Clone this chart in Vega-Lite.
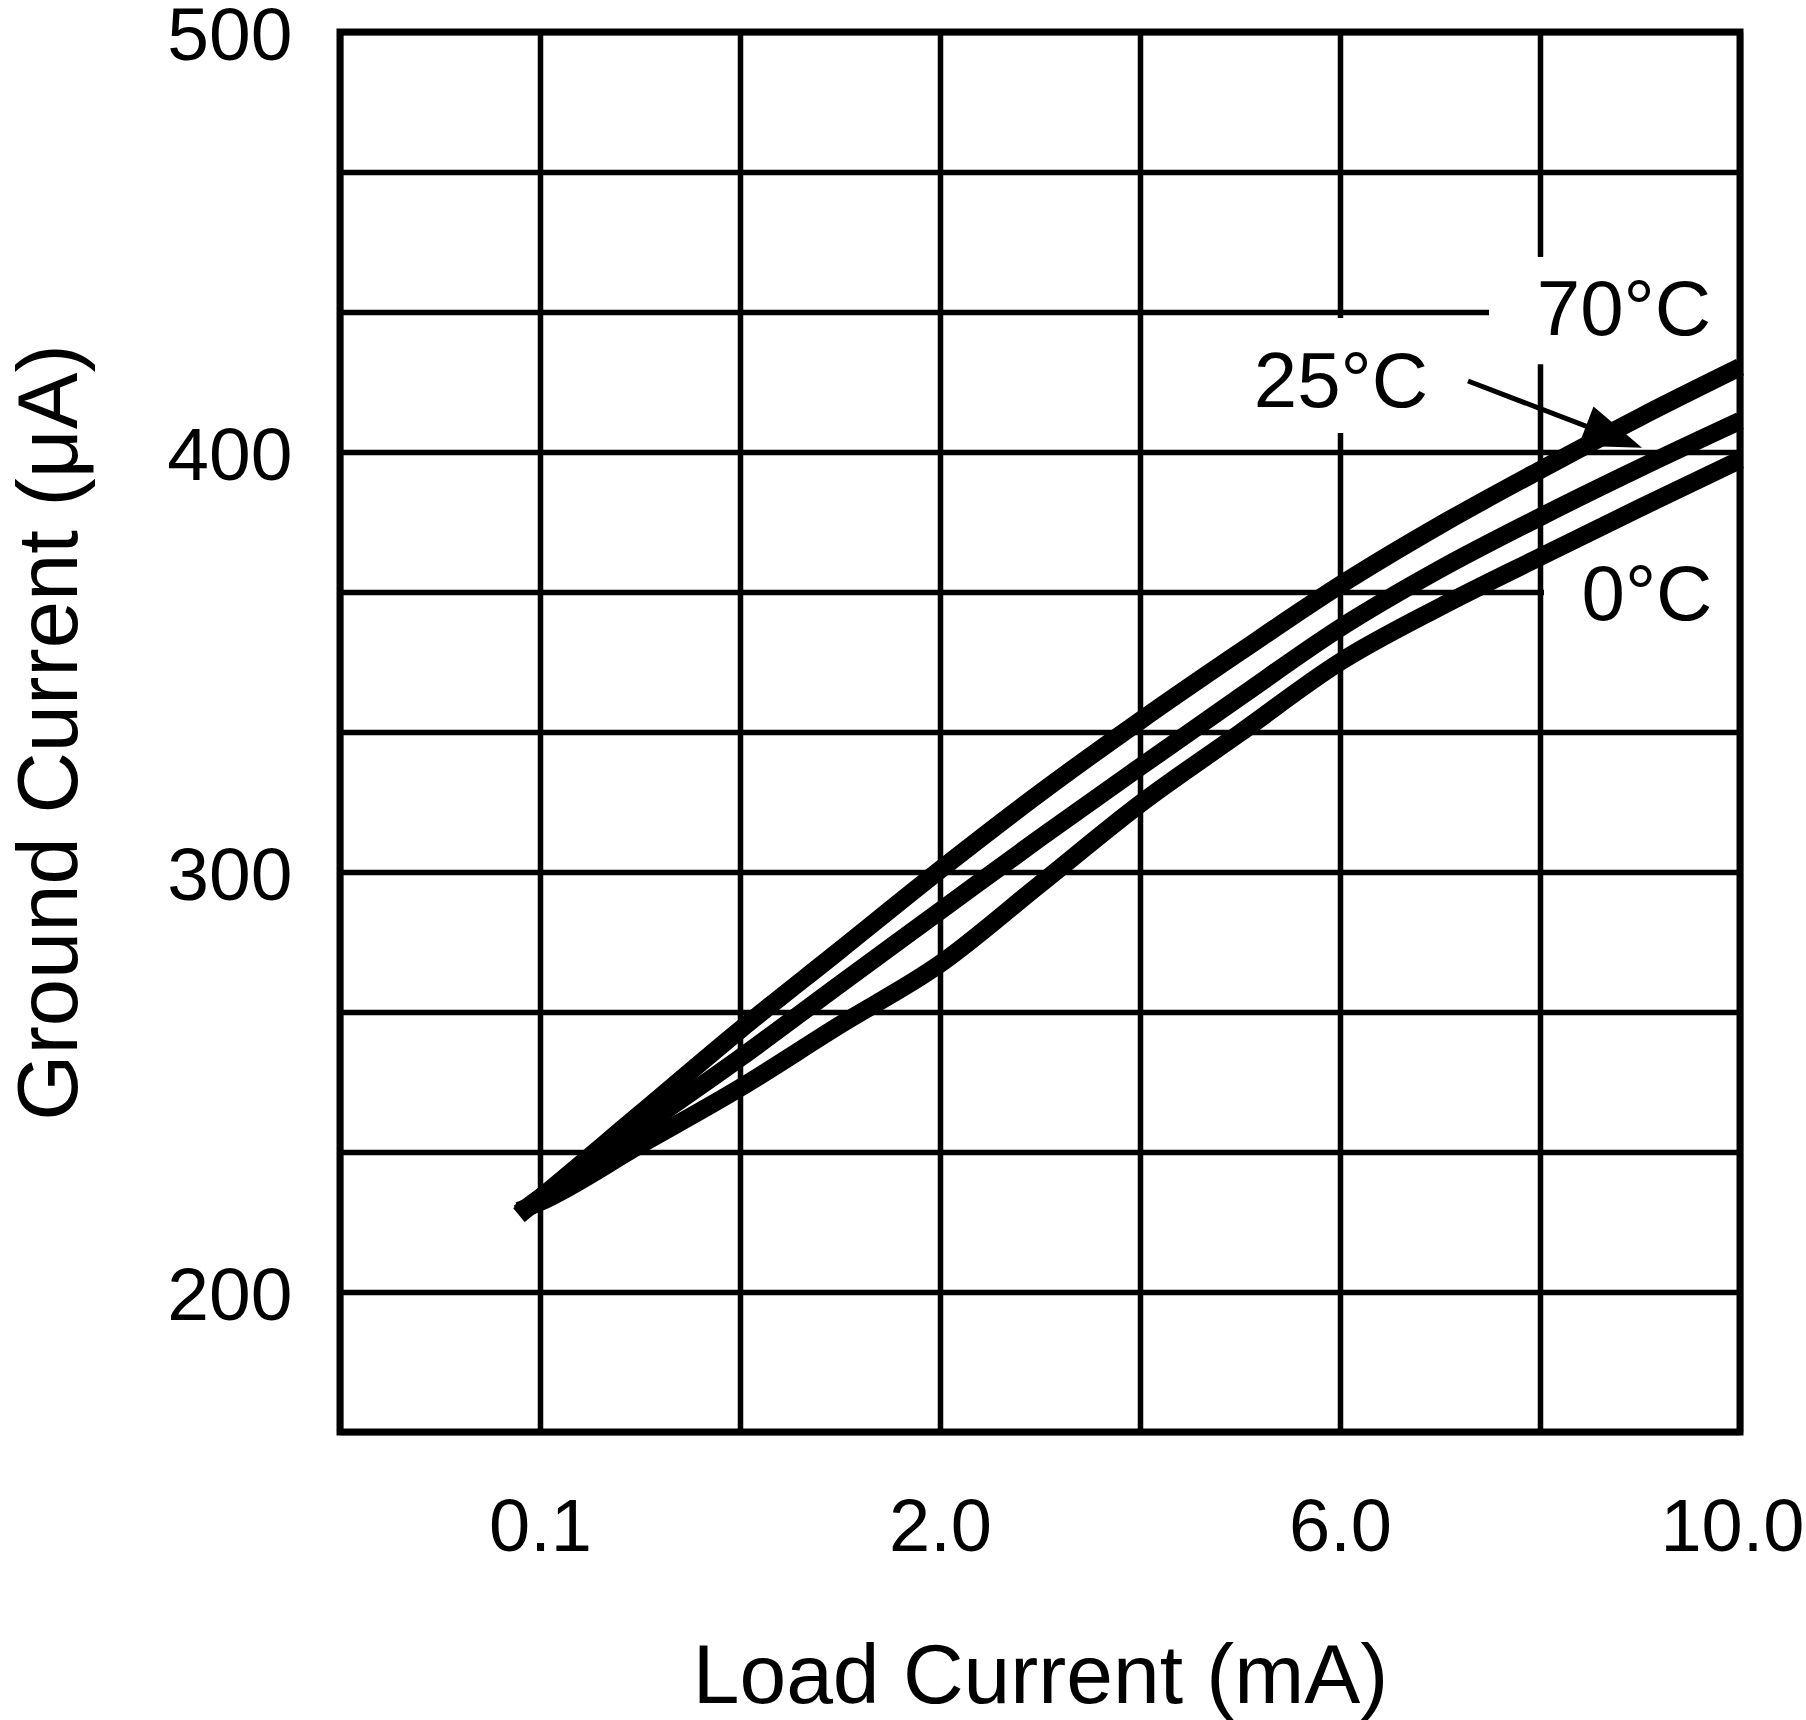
{
  "$schema": "https://vega.github.io/schema/vega-lite/v6.json",
  "width": 1400,
  "height": 1400,
  "autosize": {"type": "none"},
  "padding": {"left": 340, "top": 32, "right": 66, "bottom": 288},
  "background": "white",
  "config": {
    "font": "Liberation Sans",
    "view": {"stroke": null}
  },
  "datasets": {
    "curves": [
      {"x": -0.1, "y": 218.3, "series": "70°C"},
      {"x": 0.1, "y": 222.4, "series": "70°C"},
      {"x": 0.575, "y": 242.4, "series": "70°C"},
      {"x": 1.05, "y": 262.4, "series": "70°C"},
      {"x": 1.525, "y": 281.4, "series": "70°C"},
      {"x": 2.0, "y": 300.5, "series": "70°C"},
      {"x": 3.0, "y": 318.8, "series": "70°C"},
      {"x": 4.0, "y": 336.0, "series": "70°C"},
      {"x": 5.0, "y": 352.4, "series": "70°C"},
      {"x": 6.0, "y": 368.3, "series": "70°C"},
      {"x": 7.0, "y": 382.6, "series": "70°C"},
      {"x": 8.0, "y": 395.7, "series": "70°C"},
      {"x": 9.0, "y": 408.3, "series": "70°C"},
      {"x": 10.0, "y": 420.2, "series": "70°C"},
      {"x": -0.1, "y": 218.8, "series": "25°C"},
      {"x": 0.1, "y": 222.4, "series": "25°C"},
      {"x": 0.575, "y": 239.0, "series": "25°C"},
      {"x": 1.05, "y": 255.7, "series": "25°C"},
      {"x": 1.525, "y": 273.3, "series": "25°C"},
      {"x": 2.0, "y": 290.7, "series": "25°C"},
      {"x": 3.0, "y": 308.1, "series": "25°C"},
      {"x": 4.0, "y": 325.0, "series": "25°C"},
      {"x": 5.0, "y": 341.7, "series": "25°C"},
      {"x": 6.0, "y": 358.1, "series": "25°C"},
      {"x": 7.0, "y": 372.1, "series": "25°C"},
      {"x": 8.0, "y": 384.5, "series": "25°C"},
      {"x": 9.0, "y": 396.2, "series": "25°C"},
      {"x": 10.0, "y": 407.4, "series": "25°C"},
      {"x": -0.1, "y": 219.3, "series": "0°C"},
      {"x": 0.1, "y": 221.4, "series": "0°C"},
      {"x": 0.575, "y": 235.0, "series": "0°C"},
      {"x": 1.05, "y": 248.6, "series": "0°C"},
      {"x": 1.525, "y": 263.6, "series": "0°C"},
      {"x": 2.0, "y": 278.1, "series": "0°C"},
      {"x": 3.0, "y": 297.1, "series": "0°C"},
      {"x": 4.0, "y": 316.2, "series": "0°C"},
      {"x": 5.0, "y": 333.1, "series": "0°C"},
      {"x": 6.0, "y": 350.0, "series": "0°C"},
      {"x": 7.0, "y": 363.1, "series": "0°C"},
      {"x": 8.0, "y": 375.0, "series": "0°C"},
      {"x": 9.0, "y": 386.7, "series": "0°C"},
      {"x": 10.0, "y": 398.1, "series": "0°C"}
    ],
    "boxes": [
      {"x": 7.49, "x2": 10.0, "y": 446.4, "y2": 420.9},
      {"x": 4.9, "x2": 7.15, "y": 431.9, "y2": 404.5},
      {"x": 8.04, "x2": 10.0, "y": 377.1, "y2": 355.2}
    ],
    "frame": [
      {"x": -1.8, "x2": 10.0, "y": 166.6667, "y2": 500}
    ],
    "labels": [
      {"x": 8.84, "y": 433.3, "text": "70°C"},
      {"x": 6.01, "y": 416.2, "text": "25°C"},
      {"x": 9.07, "y": 365.5, "text": "0°C"}
    ],
    "arrow": [
      {"x": 7.28, "y": 416.9, "x2": 8.74, "y2": 403.6}
    ],
    "arrowhead": [
      {"x": 8.74, "y": 403.6}
    ]
  },
  "encoding": {
    "x": {
      "field": "x",
      "type": "quantitative",
      "scale": {"domain": [-1.8, 0.1, 2.0, 6.0, 10.0], "range": [0, 200, 600, 1000, 1400], "zero": false, "nice": false},
      "axis": {
        "values": [-1.8, 0.1, 1.05, 2.0, 4.0, 6.0, 8.0, 10.0],
        "labelExpr": "indexof([0.1, 2, 6, 10], datum.value) >= 0 ? format(datum.value, '.1f') : ''",
        "grid": true,
        "gridColor": "black",
        "gridWidth": 5.5,
        "gridOpacity": 1,
        "domain": false,
        "ticks": false,
        "labelFlush": true,
        "labelFlushOffset": 64,
        "labelOverlap": false,
        "labelFontSize": 74,
        "labelColor": "black",
        "labelPadding": 60,
        "title": "Load Current (mA)",
        "titleFontSize": 84,
        "titleFontWeight": "normal",
        "titleColor": "black",
        "titlePadding": 71
      }
    },
    "y": {
      "field": "y",
      "type": "quantitative",
      "scale": {"domain": [166.6667, 500], "zero": false, "nice": false},
      "axis": {
        "values": [166.6667, 200, 233.3333, 266.6667, 300, 333.3333, 366.6667, 400, 433.3333, 466.6667, 500],
        "labelExpr": "indexof([200, 300, 400, 500], datum.value) >= 0 ? format(datum.value, 'd') : ''",
        "grid": true,
        "gridColor": "black",
        "gridWidth": 5.5,
        "gridOpacity": 1,
        "domain": false,
        "ticks": false,
        "labelFlush": false,
        "labelOverlap": false,
        "labelFontSize": 75,
        "labelBaseline": "alphabetic",
        "labelOffset": 27,
        "labelColor": "black",
        "labelPadding": 48,
        "title": "Ground Current (μA)",
        "titleFontSize": 85,
        "titleFontWeight": "normal",
        "titleColor": "black",
        "titlePadding": 72
      }
    }
  },
  "layer": [
    {
      "data": {"name": "boxes"},
      "mark": {"type": "rect", "fill": "white", "stroke": null},
      "encoding": {"x2": {"field": "x2"}, "y2": {"field": "y2"}}
    },
    {
      "data": {"name": "curves"},
      "mark": {"type": "line", "interpolate": "monotone", "color": "black", "strokeWidth": 18, "strokeCap": "butt", "strokeJoin": "round"},
      "encoding": {"detail": {"field": "series", "type": "nominal"}}
    },
    {
      "data": {"name": "arrow"},
      "mark": {"type": "rule", "color": "black", "strokeWidth": 5},
      "encoding": {"x2": {"field": "x2"}, "y2": {"field": "y2"}}
    },
    {
      "data": {"name": "arrowhead"},
      "mark": {"type": "point", "shape": "M0,-1L0.7,1L-0.7,1Z", "filled": true, "color": "black", "opacity": 1, "size": 3600, "angle": 111},
      "encoding": {}
    },
    {
      "data": {"name": "labels"},
      "mark": {"type": "text", "fontSize": 78, "color": "black", "align": "center", "baseline": "middle"},
      "encoding": {"text": {"field": "text", "type": "nominal"}}
    },
    {
      "data": {"name": "frame"},
      "mark": {"type": "rect", "fill": null, "fillOpacity": 0, "stroke": "black", "strokeWidth": 7},
      "encoding": {"x2": {"field": "x2"}, "y2": {"field": "y2"}}
    }
  ]
}
